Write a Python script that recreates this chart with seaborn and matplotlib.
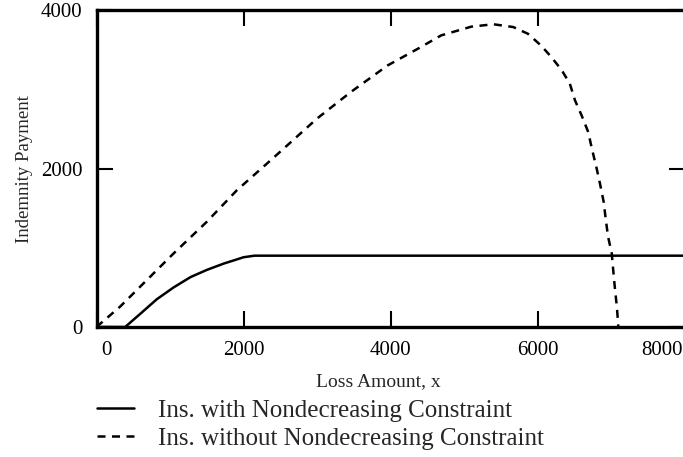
import matplotlib
matplotlib.use('Agg')
import matplotlib.pyplot as plt
import matplotlib.transforms as mtransforms
import seaborn as sns

# values
loss_with = [0, 390, 600, 820, 1050, 1280, 1500, 1730, 1900, 2000, 2150, 8000]
pay_with = [0, 0, 170, 350, 500, 630, 720, 800, 850, 880, 900, 900]

loss_without = [0, 320, 730, 1050, 1500, 1910, 2370, 3000, 3460, 3960, 4370, 4690,
                5100, 5400, 5670, 5870, 6050, 6190, 6330, 6440, 6510, 6600, 6690,
                6740, 6800, 6850, 6900, 6930, 6960, 7010, 7030, 7055, 7080, 7100]
pay_without = [0, 256, 634, 929, 1327, 1726, 2104, 2630, 2965, 3300, 3510, 3680,
               3790, 3820, 3785, 3700, 3550, 3405, 3240, 3070, 2860, 2670, 2460,
               2250, 2020, 1810, 1580, 1350, 1140, 930, 720, 470, 255, 0]

x_ticks = [0, 2000, 4000, 6000, 8000]
y_ticks = [0, 2000, 4000]

sns.set_style('ticks')
plt.rcParams['font.family'] = ['Liberation Serif', 'DejaVu Serif']

fig = plt.figure(figsize=(6.83, 4.57), dpi=100)
W, H = 683, 457
ax = fig.add_axes([96.5 / W, (H - 327) / H, 588 / W, 317 / H])

sns.lineplot(x=loss_with, y=pay_with, ax=ax, color='black', lw=1.8,
             sort=False, label='Ins. with Nondecreasing Constraint')
sns.lineplot(x=loss_without, y=pay_without, ax=ax, color='black', lw=1.8,
             sort=False, linestyle=(0, (3.2, 2.6)),
             label='Ins. without Nondecreasing Constraint')

ax.set_xlim(0, 8000)
ax.set_ylim(0, 4000)
ax.set_xticks(x_ticks)
ax.set_yticks(y_ticks)
ax.tick_params(direction='in', length=11.5, width=1.5, top=True, right=True,
               labelsize=15, colors='black')
ax.tick_params(axis='x', pad=10)
ax.tick_params(axis='y', pad=10)
for s in ax.spines.values():
    s.set_linewidth(2.4)
    s.set_color('black')

# nudge the end labels like the original
xl = ax.get_xticklabels()
xl[0].set_transform(xl[0].get_transform() + mtransforms.ScaledTranslation(10 / 100, 0, fig.dpi_scale_trans))
xl[-1].set_transform(xl[-1].get_transform() + mtransforms.ScaledTranslation(-23 / 100, 0, fig.dpi_scale_trans))

ax.set_xlabel('Loss Amount, x', fontsize=14)
ax.set_ylabel('Indemnity Payment', fontsize=13.5)
ax.xaxis.set_label_coords((377 - 96.5) / 586, (327 - 382) / 317)
ax.xaxis.label.set_verticalalignment('center')
ax.yaxis.set_label_coords((25 - 96.5) / 586, (327 - 169) / 317)
ax.yaxis.label.set_verticalalignment('center')

ax.legend(loc='upper left', bbox_to_anchor=(97 / W, 1 - 399 / H),
          bbox_transform=fig.transFigure, frameon=False, fontsize=18,
          borderpad=0, borderaxespad=0, handlelength=1.48, handletextpad=0.96,
          labelspacing=0.22)

fig.savefig('out.png', dpi=100)
